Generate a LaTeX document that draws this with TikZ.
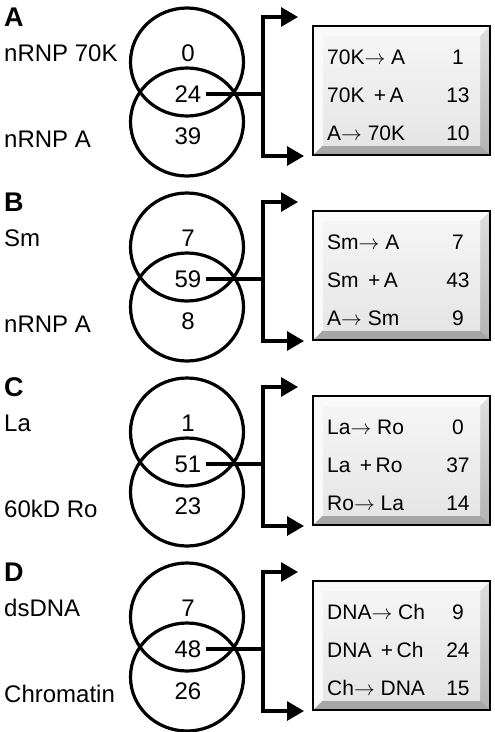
\documentclass[tikz,border=0pt]{standalone}
\usepackage{fontspec}
\setmainfont{Liberation Sans}
\usetikzlibrary{arrows.meta}

\tikzset{
  venn/.style={line width=3.2pt},
  cnt/.style={font=\fontsize{24}{24}\selectfont, inner sep=4pt},
  lbl/.style={font=\fontsize{24}{24}\selectfont, anchor=west, inner sep=0pt},
  ltr/.style={font=\fontsize{27}{27}\selectfont\bfseries, anchor=west, inner sep=0pt},
  row/.style={font=\fontsize{21}{21}\selectfont, anchor=west, inner sep=0pt},
  rownum/.style={font=\fontsize{21}{21}\selectfont, inner sep=0pt},
  bracket/.style={line width=3.2pt, -{Triangle[length=17pt,width=19pt]}},
}

\begin{document}
\begin{tikzpicture}[x=1pt,y=-1pt]
\useasboundingbox (0,0) rectangle (495,732);
% one panel per antibody pair, shifted down by \oy
\foreach \i/\oy/\ltr/\nup/\nlo/\cu/\cm/\cl/\ra/\na/\rb/\nb/\rc/\nc in {
  a/0/A/nRNP 70K/nRNP A/0/24/39/70K$\rightarrow$ A/1/70K \,+\,A/13/A$\rightarrow$ 70K/10,
  b/185/B/Sm/nRNP A/7/59/8/Sm$\rightarrow$ A/7/Sm \,+\,A/43/A$\rightarrow$ Sm/9,
  c/370/C/La/60kD Ro/1/51/23/La$\rightarrow$ Ro/0/La \,+\,Ro/37/Ro$\rightarrow$ La/14,
  d/555/D/dsDNA/Chromatin/7/48/26/DNA$\rightarrow$ Ch/9/DNA \,+\,Ch/24/Ch$\rightarrow$ DNA/15}
{
  % panel letter and the two antigen names
  \node[ltr] (ltr\i) at (4,\oy+17) {\ltr};
  \node[lbl] (nup\i) at (4,\oy+53) {\nup};
  \node[lbl] (nlo\i) at (4,\oy+139) {\nlo};
  % the two circles
  \draw[venn] (187,\oy+62) ellipse [x radius=56.5, y radius=54];
  \draw[venn] (187,\oy+122) ellipse [x radius=56.5, y radius=54];
  \node[cnt] (cu\i) at (188,\oy+53) {\cu};
  \node[cnt] (cm\i) at (188,\oy+94) {\cm};
  \node[cnt] (cl\i) at (188,\oy+136) {\cl};
  % the fork to the box
  \coordinate (j\i) at (263,\oy+94);
  \coordinate (up\i) at (298,\oy+17);
  \coordinate (dn\i) at (304,\oy+156);
  \draw[venn] (cm\i.east) -- (j\i);
  \draw[bracket] (j\i) |- (up\i);
  \draw[bracket] (j\i) |- (dn\i);
  % bevelled box
  \fill[gray!70] (313,\oy+26) rectangle (490,\oy+155);
  \shade[top color=gray!25, bottom color=gray!60] (480,\oy+36) -- (490,\oy+26)
    -- (490,\oy+155) -- (480,\oy+145) -- cycle;
  \fill[gray!5] (313,\oy+26) -- (490,\oy+26) -- (480,\oy+36) -- (323,\oy+36)
    -- (323,\oy+145) -- (313,\oy+155) -- cycle;
  \shade[top color=gray!8, bottom color=gray!20] (323,\oy+36) rectangle (480,\oy+145);
  \draw[line width=1.2pt] (313,\oy+26) rectangle (490,\oy+155);
  % rows of the box
  \node[row] (ra\i) at (327,\oy+57) {\ra};
  \node[row] (rb\i) at (327,\oy+95) {\rb};
  \node[row] (rc\i) at (327,\oy+133) {\rc};
  \node[rownum] (na\i) at (458,\oy+57) {\na};
  \node[rownum] (nb\i) at (458,\oy+95) {\nb};
  \node[rownum] (nc\i) at (458,\oy+133) {\nc};
}
\end{tikzpicture}
\end{document}
